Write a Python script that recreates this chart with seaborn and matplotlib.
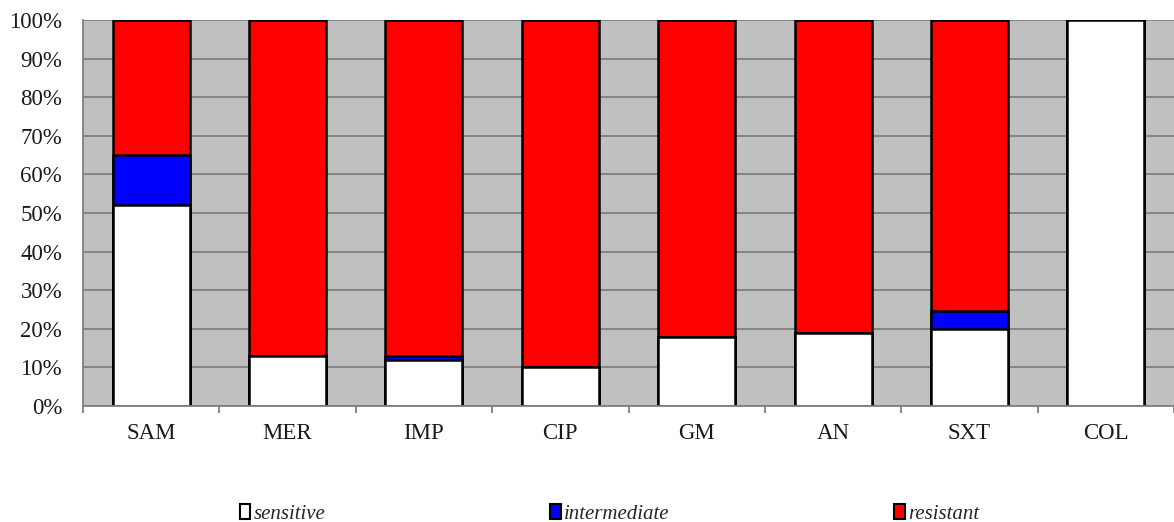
import matplotlib
matplotlib.use("Agg")
import matplotlib.pyplot as plt
import seaborn as sns
import pandas as pd
import numpy as np
from matplotlib.patches import Patch
from matplotlib.ticker import FixedLocator, PercentFormatter

categories = ["SAM", "MER", "IMP", "CIP", "GM", "AN", "SXT", "COL"]
sensitive = [52, 13, 12, 10, 18, 19, 20, 100]
intermediate = [13, 0, 1, 0, 0, 0, 4.5, 0]
resistant = [35, 87, 87, 90, 82, 81, 75.5, 0]
series_names = ["sensitive", "intermediate", "resistant"]
series_colors = ["#FFFFFF", "#0000FF", "#FF0000"]

df = pd.DataFrame({"cat": categories, "s": sensitive, "i": intermediate, "r": resistant})
df["cum_si"] = df["s"] + df["i"]
df["cum_all"] = df["cum_si"] + df["r"]

sns.set_style("white")
plt.rcParams["font.family"] = ["Liberation Serif", "DejaVu Serif"]

fig = plt.figure(figsize=(11.74, 5.22), dpi=100)
ax = fig.add_axes([83 / 1174, 1 - 406 / 522, 1 - 83 / 1174, (406 - 20) / 522])
ax.set_facecolor("#C0C0C0")

for col, color in zip(["cum_all", "cum_si", "s"], [series_colors[2], series_colors[1], series_colors[0]]):
    sns.barplot(data=df, x="cat", y=col, order=categories, color=color, width=0.565,
                edgecolor="black", linewidth=1.8, saturation=1, ax=ax, zorder=3)

ax.set_xlim(-0.5, 7.5)
ax.set_ylim(0, 100)
ax.set_yticks(np.arange(0, 101, 10))
ax.yaxis.set_major_formatter(PercentFormatter(decimals=0))
ax.grid(axis="y", color="#808080", linewidth=1.3, zorder=1)
ax.set_axisbelow(True)
ax.set_xlabel("")
ax.set_ylabel("")

for side in ["top", "right"]:
    ax.spines[side].set_visible(False)
for side in ["left", "bottom"]:
    ax.spines[side].set_color("#808080")
    ax.spines[side].set_linewidth(1.3)
    ax.spines[side].set_zorder(4)

ax.tick_params(axis="y", length=5, width=1.3, color="#808080", pad=10, labelsize=16.5, labelcolor="#1a1a1a")
ax.tick_params(axis="x", which="major", length=0, pad=12, labelsize=16.5, labelcolor="#1a1a1a")
ax.xaxis.set_minor_locator(FixedLocator(np.arange(-0.5, 8, 1.0)))
ax.tick_params(axis="x", which="minor", length=5, width=1.3, color="#808080", bottom=True)

handles = [Patch(facecolor=c, edgecolor="black", linewidth=1.5) for c in series_colors]
fig.legend(handles, series_names, loc="center", bbox_to_anchor=(0.519, 1 - 514 / 522), ncol=3,
           frameon=False, handlelength=0.5, handleheight=0.75, handletextpad=0.15,
           columnspacing=10.8, prop={"style": "italic", "size": 15})

fig.savefig("out.png", dpi=100)
